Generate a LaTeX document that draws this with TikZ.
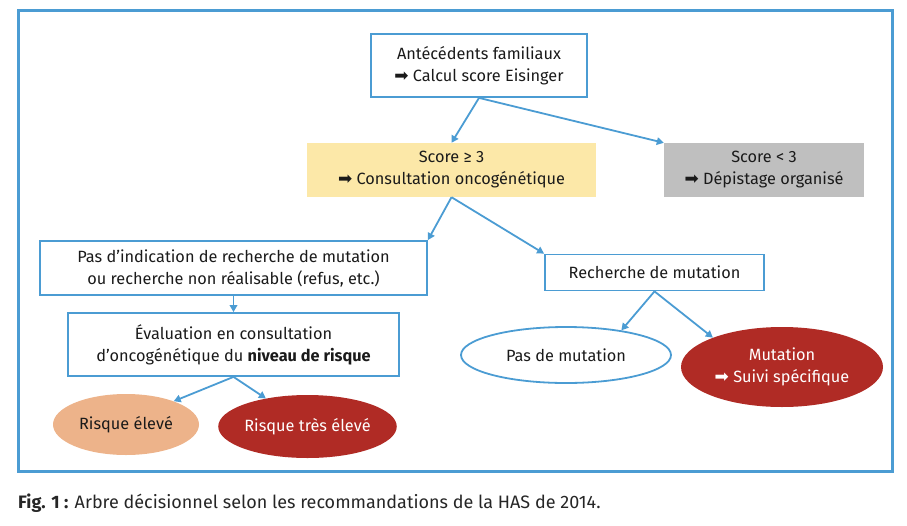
\documentclass[tikz,border=0pt]{standalone}
\usepackage{fontspec}
\setmainfont{Fira Sans}
\newfontfamily\dejavu{DejaVu Sans}
\usetikzlibrary{shapes.geometric, arrows.meta}
\definecolor{hasblue}{HTML}{4B9CD3}
\definecolor{hasyellow}{HTML}{FCE8A8}
\definecolor{hasgray}{HTML}{BFBFBF}
\definecolor{haspeach}{HTML}{EDB38A}
\definecolor{hasred}{HTML}{B02B25}
\definecolor{hastext}{HTML}{1A1A1A}
\newcommand{\fleche}{{\dejavu\fontsize{17}{17}\selectfont\symbol{"27A1}}~}
\tikzset{every node/.style={align=center, text=hastext, font=\fontsize{16.3}{22}\selectfont}}
\tikzset{box/.style={draw=hasblue, line width=1.8pt, inner sep=0pt}}
\tikzset{fillbox/.style={inner sep=0pt}}
\tikzset{oval/.style={ellipse, inner sep=0pt}}
\tikzset{link/.style={hasblue, line width=1.8pt, -{Triangle[length=7pt, width=7.5pt]}}}
\tikzset{frame/.style={hasblue, line width=3pt}}

\begin{document}
\begin{tikzpicture}[x=1pt, y=-1pt]

	% Frame
	\useasboundingbox (0,0) rectangle (907,525);
	\draw[frame] (18,10) rectangle (892,471);

	% Boxes
	\node[box, minimum width=216pt, minimum height=63pt] (famille) at (479,65.5) {Antécédents familiaux\\\fleche Calcul score Eisinger};
	\node[fillbox, fill=hasyellow, minimum width=289pt, minimum height=54pt] (score) at (451.5,170) {Score ≥ 3\\\fleche Consultation oncogénétique};
	\node[fillbox, fill=hasgray, minimum width=200pt, minimum height=54pt] (faible) at (764,170) {Score < 3\\\fleche Dépistage organisé};
	\node[box, minimum width=387pt, minimum height=54pt] (indication) at (233.5,268) {Pas d'indication de recherche de mutation\\ou recherche non réalisable (refus, etc.)};
	\node[box, minimum width=331pt, minimum height=63pt] (evaluation) at (233.5,344.5) {Évaluation en consultation\\d'oncogénétique du \textbf{niveau de risque}};
	\node[box, minimum width=219pt, minimum height=36pt] (recherche) at (654.5,272.5) {Recherche de mutation};

	% Ellipses
	\node[oval, fill=haspeach, minimum width=146pt, minimum height=61pt] (eleve) at (126,424.5) {Risque élevé};
	\node[oval, fill=hasred, text=white, minimum width=177pt, minimum height=63pt] (treseleve) at (307.5,426.5) {Risque très élevé};
	\node[oval, draw=hasblue, line width=1.8pt, minimum width=210pt, minimum height=56pt] (pasmutation) at (566,355) {Pas de mutation};
	\node[oval, fill=hasred, text=white, minimum width=202pt, minimum height=80pt] (mutation) at (782,367) {Mutation\\\fleche Suivi spécifique};

	% Arrows
	\draw[link] (famille.south) -- (score.north);
	\draw[link] (famille.south) -- (faible.north west);
	\draw[link] (score.south) -- (indication.north east);
	\draw[link] (score.south) -- (recherche.north west);
	\draw[link] (indication.south) -- (evaluation.north);
	\draw[link] (evaluation.south) -- (eleve.26);
	\draw[link] (evaluation.south) -- (treseleve.146);
	\draw[link] (recherche.south) -- (pasmutation.24);
	\draw[link] (recherche.south) -- (mutation.157);

	% Caption
	\node[anchor=west, text=black!85, inner sep=0pt, font=\fontsize{18}{22}\selectfont] (legende) at (18,503) {\textbf{Fig. 1 :} Arbre décisionnel selon les recommandations de la HAS de 2014.};
\end{tikzpicture}
\end{document}
